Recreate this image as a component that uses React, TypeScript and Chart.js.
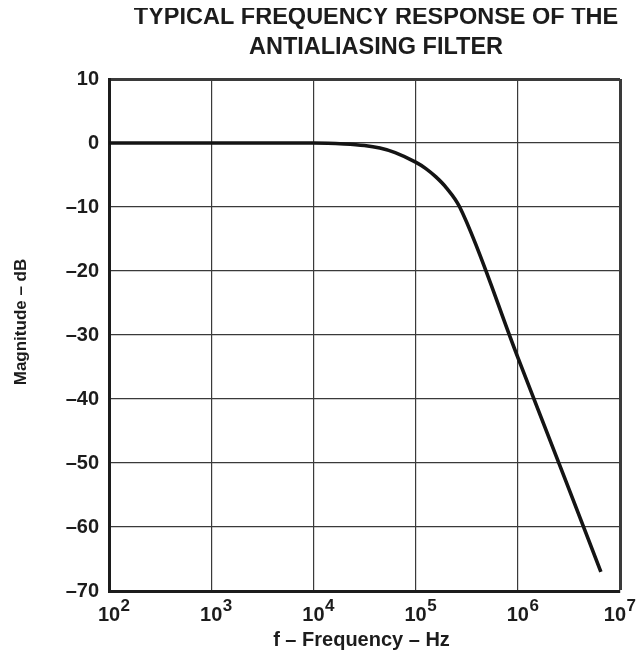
import React, { useEffect, useRef } from "react";
import { Chart, registerables } from "chart.js";

Chart.register(...registerables);

const titleLines = ["TYPICAL FREQUENCY RESPONSE OF THE", "ANTIALIASING FILTER"];
const xAxisTitle = "f – Frequency – Hz";
const yAxisTitle = "Magnitude – dB";

const freqHz = [100, 1000, 10000, 20000, 31600, 44700, 63100, 100000, 126000, 158000, 200000, 270000, 1000000, 3000000, 6500000];
const magnitudeDb = [0, 0, 0, -0.15, -0.4, -0.8, -1.5, -3.0, -4.0, -5.3, -7.0, -10.0, -33.5, -53.1, -67.0];

const xDecadeExponents = [2, 3, 4, 5, 6, 7];
const yMin = -70;
const yMax = 10;
const yStep = 10;

const FONT = "'Liberation Sans', Arial, Helvetica, sans-serif";
const TEXT = "#1c1c1c";
const GRID = "#3a3a3a";
const BORDER = "#1c1c1c";

const textPlugin = {
  id: "customText",
  afterDraw(chart: any) {
    const { ctx, chartArea, scales, width } = chart;
    const xs = scales.x;
    ctx.save();
    ctx.fillStyle = TEXT;
    // title
    ctx.font = `bold 23.5px ${FONT}`;
    ctx.textAlign = "center";
    ctx.textBaseline = "middle";
    titleLines.forEach((line, i) => {
      ctx.fillText(line, chartArea.left + 267, chartArea.top - 61 + i * 29.5);
    });
    // x tick labels with superscript exponents
    xDecadeExponents.forEach((k) => {
      let x = xs.getPixelForValue(Math.pow(10, k));
      ctx.font = `bold 20px ${FONT}`;
      const w = ctx.measureText("10").width;
      ctx.font = `bold 17px ${FONT}`;
      const we = ctx.measureText(String(k)).width;
      const rightEdge = x + w / 2 + 0.5 + we;
      if (rightEdge > width - 2) x -= rightEdge - (width - 2);
      ctx.font = `bold 20px ${FONT}`;
      ctx.textAlign = "center";
      ctx.textBaseline = "middle";
      ctx.fillText("10", x, chartArea.bottom + 24);
      ctx.font = `bold 17px ${FONT}`;
      ctx.textAlign = "left";
      ctx.fillText(String(k), x + w / 2 + 0.5, chartArea.bottom + 15.5);
    });
    // x axis title
    ctx.font = `bold 20px ${FONT}`;
    ctx.textAlign = "center";
    ctx.textBaseline = "middle";
    ctx.fillText(xAxisTitle, chartArea.left + 252.5, chartArea.bottom + 49);
    // y axis title
    ctx.font = `bold 17px ${FONT}`;
    ctx.translate(chartArea.left - 88, chartArea.top + 243);
    ctx.rotate(-Math.PI / 2);
    ctx.fillText(yAxisTitle, 0, 0);
    ctx.restore();
  },
};

export default function App() {
  const ref = useRef<HTMLCanvasElement>(null);
  useEffect(() => {
    const chart = new Chart(ref.current as HTMLCanvasElement, {
      type: "line",
      data: {
        datasets: [
          {
            data: freqHz.map((f, i) => ({ x: f, y: magnitudeDb[i] })),
            borderColor: "#141414",
            borderWidth: 3.6,
            pointRadius: 0,
            fill: false,
            cubicInterpolationMode: "monotone",
          },
        ],
      },
      options: {
        animation: false,
        responsive: true,
        maintainAspectRatio: false,
        layout: { padding: { top: 71, right: 18, left: 0, bottom: 0 } },
        plugins: { legend: { display: false }, tooltip: { enabled: false }, title: { display: false } },
        scales: {
          x: {
            type: "logarithmic",
            min: 100,
            max: 10000000,
            afterBuildTicks: (s: any) => {
              s.ticks = xDecadeExponents.map((k) => ({ value: Math.pow(10, k) }));
            },
            afterFit: (s: any) => {
              s.height = 61;
            },
            ticks: { display: false },
            grid: {
              color: GRID,
              lineWidth: (c: any) => (c.tick && c.tick.value === 10000000 ? 3 : 1.2),
              drawTicks: false,
            },
            border: { width: 3, color: BORDER },
          },
          y: {
            type: "linear",
            min: yMin,
            max: yMax,
            afterFit: (s: any) => {
              s.width = 101;
            },
            ticks: {
              stepSize: yStep,
              padding: 10,
              color: TEXT,
              font: { family: FONT, size: 20, weight: "bold" },
              callback: (v: any) => (v < 0 ? "–" + Math.abs(v) : String(v)),
            },
            grid: {
              color: GRID,
              lineWidth: (c: any) => (c.tick && c.tick.value === yMax ? 3 : 1.2),
              drawTicks: false,
            },
            border: { width: 3, color: BORDER },
          },
        },
      },
      plugins: [textPlugin],
    } as any);
    return () => chart.destroy();
  }, []);
  return (
    <div style={{ width: 638, height: 652, boxSizing: "border-box", padding: "8px 0 0 8px", background: "#fff" }}>
      <style>{"body{margin:0}"}</style>
      <div style={{ width: 630, height: 644 }}>
        <canvas ref={ref} />
      </div>
    </div>
  );
}
